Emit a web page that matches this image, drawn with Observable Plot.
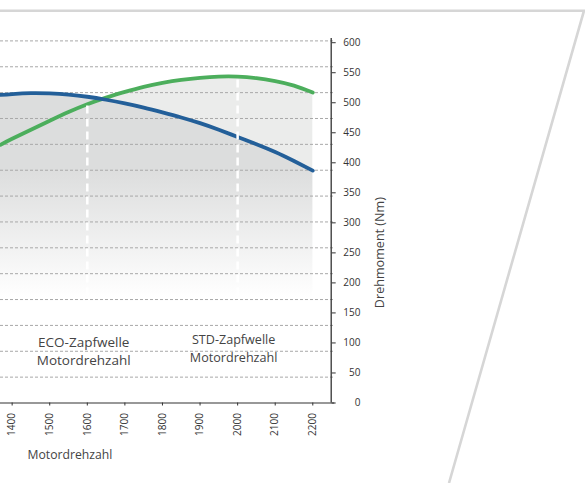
<!DOCTYPE html>
<html>
<head>
<meta charset="utf-8">
<script src="https://cdn.jsdelivr.net/npm/d3@7"></script>
<script src="https://cdn.jsdelivr.net/npm/@observablehq/plot@0.6"></script>
<style>
  body { margin: 0; background: #fff; }
  #wrap { position: relative; width: 585px; height: 483px; overflow: hidden; }
  #deco { position: absolute; left: 0; top: 0; pointer-events: none; }
</style>
</head>
<body>
<div id="wrap"></div>
<script>
// ---- data ----
const rpm      = [1369, 1400, 1450, 1500, 1550, 1600, 1650, 1700, 1750, 1800, 1850, 1900, 1950, 2000, 2050, 2100, 2150, 2200];
const blueNm   = [513, 514.5, 516, 515.5, 513.5, 510, 505, 499, 492, 484, 475.5, 466, 455, 443, 431, 418, 403, 387];
const greenNm  = [430, 440, 455, 470, 484.5, 497.5, 508.5, 518, 526.5, 533, 538, 541.5, 543.5, 543.5, 541, 536, 528.5, 517];
const xTicks   = [1400, 1500, 1600, 1700, 1800, 1900, 2000, 2100, 2200];
const yTicks   = [0, 50, 100, 150, 200, 250, 300, 350, 400, 450, 500, 550, 600];
const gridLeft = [10, 20, 30, 40, 50, 60, 70, 80, 90, 100, 110, 120, 130, 140]; // hidden left axis (cut off)
const leftMax = 140, leftMaxInNm = 603;
const markerRpm = [1600, 2000];
const ecoLabel = ["ECO-Zapfwelle\nMotordrehzahl"];
const stdLabel = ["STD-Zapfwelle\nMotordrehzahl"];
const xDomain = [1369, 2249];
const yDomain = [0, 607];

const rows = rpm.map((r, i) => ({rpm: r, blue: blueNm[i], green: greenNm[i]}));
const markers = markerRpm.map(r => ({rpm: r, top: greenNm[rpm.indexOf(r)]}));
const grid = gridLeft.map(v => v * leftMaxInNm / leftMax);

const lightGray = "#ebeceb", darkGray = "#dcdddd";
const green = "#4cae5c", blue = "#235f99";
const curve = "natural";

const defsMark = (index, scales) => {
  const defs = d3.create("svg:defs");
  const y = scales && scales.y;
  for (const [id, c] of [["gradGreen", lightGray], ["gradBlue", darkGray]]) {
    const g = defs.append("linearGradient").attr("id", id)
      .attr("gradientUnits", "userSpaceOnUse")
      .attr("x1", 0).attr("x2", 0)
      .attr("y1", y ? y(390) : 170).attr("y2", y ? y(175) : 297);
    g.append("stop").attr("offset", 0).attr("stop-color", c);
    g.append("stop").attr("offset", 1).attr("stop-color", "#ffffff");
  }
  return defs.node();
};

const chart = Plot.plot({
  width: 585,
  height: 483,
  marginLeft: 0,
  marginRight: 254.3,
  marginTop: 38,
  marginBottom: 80.5,
  style: {fontFamily: "'Open Sans', sans-serif", fontSize: "10px", color: "#333", background: "transparent"},
  x: {domain: xDomain},
  y: {domain: yDomain},
  marks: [
    defsMark,
    Plot.areaY(rows, {x: "rpm", y: "green", fill: "url(#gradGreen)", curve}),
    Plot.areaY(rows, {x: "rpm", y: "blue", fill: "url(#gradBlue)", curve}),
    Plot.ruleY(grid, {stroke: "#a8a8a8", strokeWidth: 1, strokeDasharray: "3,2", insetRight: -4}),
    Plot.line(rows, {x: "rpm", y: "green", stroke: green, strokeWidth: 3.8, curve}),
    Plot.line(rows, {x: "rpm", y: "blue", stroke: blue, strokeWidth: 3.8, curve}),
    Plot.ruleX(markers, {x: "rpm", y1: 0, y2: "top", stroke: "#ffffff", strokeWidth: 2.5, strokeDasharray: "8,5", insetTop: -3}),
    Plot.ruleY([0], {stroke: "#333", strokeWidth: 1.2, insetRight: -3.5}),
    Plot.ruleX([xDomain[1]], {stroke: "#333", strokeWidth: 1.3}),
    Plot.axisX({ticks: xTicks, tickSize: 3, tickPadding: 7, tickRotate: -90, tickFormat: d => String(d), label: null, fill: "#333", fontSize: 10}),
    Plot.axisY({anchor: "right", ticks: yTicks, tickSize: 4, tickPadding: 25.3, textAnchor: "end", tickFormat: d => String(d), label: null, fill: "#333", fontSize: 10}),
    Plot.text(ecoLabel, {x: markerRpm[0], frameAnchor: "bottom", dx: -3.6, dy: -53, lineAnchor: "middle", lineHeight: 1.4, fontSize: 13.5, fill: "#444"}),
    Plot.text(stdLabel, {x: markerRpm[1], frameAnchor: "bottom", dx: -4, dy: -55.5, lineAnchor: "middle", lineHeight: 1.43, fontSize: 12.6, fill: "#444"}),
    Plot.text(["Motordrehzahl"], {frameAnchor: "bottom-left", dx: 27, dy: 52.5, textAnchor: "start", lineAnchor: "middle", fontSize: 12.2, fill: "#444"}),
    Plot.text(["Drehmoment (Nm)"], {frameAnchor: "right", dx: 48.3, dy: -23.7, rotate: -90, fontSize: 12.6, fill: "#444"})
  ]
});

const wrap = document.getElementById("wrap");
wrap.appendChild(chart);
// decorative page frame (not data)
const deco = d3.select(wrap).append("svg").attr("id", "deco").attr("width", 585).attr("height", 483);
deco.append("polyline").attr("points", "0,10.7 584,10.7 449,483")
  .attr("fill", "none").attr("stroke", "#d6d6d6").attr("stroke-width", 2.6);
</script>
</body>
</html>
